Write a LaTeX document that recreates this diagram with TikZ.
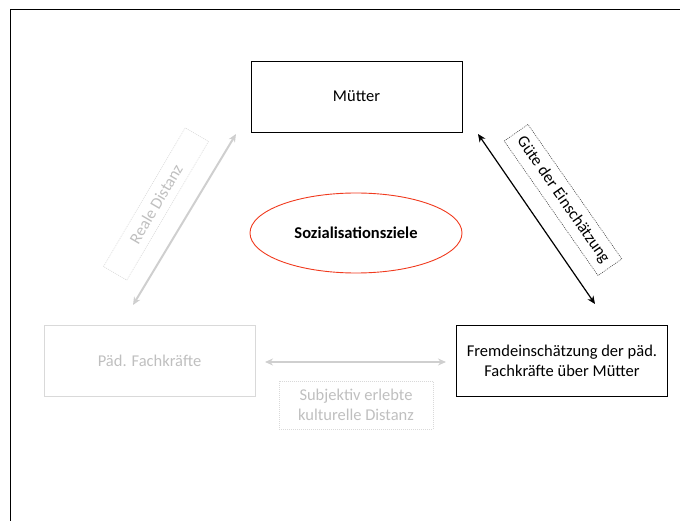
\documentclass[tikz,border=0pt]{standalone}
\usepackage{fontspec}
\setmainfont{Carlito}
\usetikzlibrary{arrows.meta,shapes.geometric}
\definecolor{lightline}{HTML}{D9D9D9}
\definecolor{lighttext}{HTML}{BFBFBF}
\definecolor{lightarrow}{HTML}{CFCFCF}
\definecolor{ellred}{HTML}{F03A1E}
\begin{document}
\begin{tikzpicture}[x=1pt,y=-1pt,
  box/.style={draw=black, line width=0.9pt, minimum width=211pt, minimum height=71pt,
    align=center, inner sep=0pt, font=\fontsize{16.5}{20}\selectfont},
  palebox/.style={box, draw=lightline, text=lighttext},
  tagbox/.style={draw, line width=0.6pt, dash pattern=on 1pt off 1pt, inner sep=0pt,
    align=center, font=\fontsize{16.5}{20}\selectfont},
  palearrow/.style={draw=lightarrow, line width=2pt, {Stealth[length=8pt,width=7pt]}-{Stealth[length=8pt,width=7pt]}},
  darkarrow/.style={draw=black, line width=1.2pt, {Stealth[length=8pt,width=7pt]}-{Stealth[length=8pt,width=7pt]}}
]
\useasboundingbox (0,0) rectangle (680,521);
% frame
\draw[line width=1pt] (680,10) -- (10,10) -- (10,521);

% boxes
\node[box] (mue) at (356.5,96.5) {Mütter};
\node[palebox] (paed) at (149.5,360.5) {Päd. Fachkräfte};
\node[box] (fremd) at (562,360.5) {Fremdeinschätzung der päd.\\Fachkräfte über Mütter};
\node[draw=ellred, line width=0.9pt, ellipse, minimum width=212pt, minimum height=80pt,
  font=\bfseries\fontsize{16.5}{20}\selectfont] (ziel) at (356,233) {Sozialisationsziele};

% connector end points
\coordinate (a1) at (236,134);
\coordinate (a2) at (133,305);
\coordinate (b1) at (478,134);
\coordinate (b2) at (595,304);
\coordinate (c1) at (265,362);
\coordinate (c2) at (446,362);

\draw[palearrow] (a1) -- (a2);
\draw[darkarrow] (b1) -- (b2);
\draw[palearrow] (c1) -- (c2);

% labels on the connectors
\node[tagbox, draw=lightline, text=lighttext, rotate=59.5, minimum width=161pt, minimum height=27pt]
  (realdist) at (156,204) {Reale Distanz};
\node[tagbox, draw=black!70, rotate=-55.1, minimum width=164pt, minimum height=29pt]
  (guete) at (563,200) {Güte der Einschätzung};
\node[tagbox, draw=lightline, text=lighttext, minimum width=154pt, minimum height=48pt]
  (kultdist) at (356,405) {Subjektiv erlebte\\kulturelle Distanz};
\end{tikzpicture}
\end{document}
